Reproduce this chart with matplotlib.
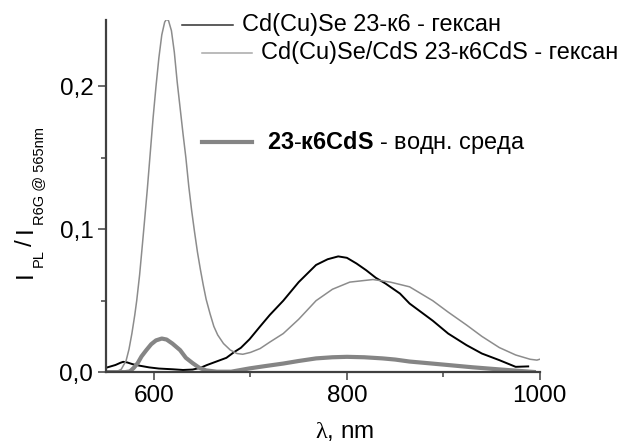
import matplotlib
matplotlib.use('Agg')
import matplotlib.pyplot as plt
from matplotlib.ticker import FixedLocator, FuncFormatter

plt.rcParams['font.family'] = ['Liberation Sans', 'DejaVu Sans']
plt.rcParams['mathtext.fontset'] = 'custom'
plt.rcParams['mathtext.rm'] = 'Liberation Sans'
plt.rcParams['mathtext.it'] = 'Liberation Serif'
plt.rcParams['mathtext.bf'] = 'Liberation Sans:bold'

FS = 17.5      # подписи осей
FS_LEG = 16.9  # подписи кривых
FS_SUB = 10.5  # индексы

# --- данные ---
# Cd(Cu)Se 23-к6 - гексан (чёрная)
wl_core = [550, 555, 560, 565, 568, 572, 578, 585, 595, 605, 619, 630, 640, 648,
           655, 665, 675, 683, 690, 699, 710, 720, 734, 750, 768, 780, 791, 800,
           810, 820, 830, 840, 855, 865, 875, 889, 905, 924, 940, 958, 975, 988]
pl_core = [0.003, 0.004, 0.005, 0.0065, 0.0072, 0.0068, 0.0055, 0.0045, 0.0033,
           0.0025, 0.002, 0.0015, 0.0018, 0.003, 0.005, 0.0075, 0.010, 0.014,
           0.017, 0.023, 0.032, 0.040, 0.050, 0.063, 0.075, 0.079, 0.081, 0.080,
           0.076, 0.0713, 0.066, 0.062, 0.055, 0.048, 0.043, 0.036, 0.027,
           0.0189, 0.013, 0.0084, 0.0037, 0.004]

# Cd(Cu)Se/CdS 23-к6CdS - гексан (тонкая серая)
wl_shell = [550, 560, 566, 571, 574, 577, 580, 582, 585, 588, 590, 593, 596, 599,
            602, 605, 608, 611, 613, 615, 618, 621, 624, 627, 630, 633, 636, 639,
            642, 645, 648, 651, 654, 658, 662, 666, 672, 679, 686, 692, 700, 710,
            720, 734, 750, 768, 785, 803, 827, 845, 865, 889, 905, 924, 940, 958,
            975, 990, 997, 1000]
pl_shell = [0.0, 0.0, 0.002, 0.008, 0.016, 0.027, 0.040, 0.050, 0.068, 0.090,
            0.105, 0.128, 0.153, 0.178, 0.200, 0.220, 0.236, 0.245, 0.247, 0.246,
            0.239, 0.224, 0.203, 0.185, 0.167, 0.150, 0.130, 0.113, 0.098, 0.084,
            0.072, 0.061, 0.051, 0.041, 0.032, 0.026, 0.020, 0.0155, 0.013,
            0.0125, 0.0138, 0.0165, 0.021, 0.027, 0.037, 0.050, 0.058, 0.063,
            0.0648, 0.063, 0.0597, 0.050, 0.042, 0.033, 0.025, 0.0172, 0.012,
            0.009, 0.0084, 0.009]

# 23-к6CdS - водн. среда (толстая серая)
wl_water = [550, 570, 575, 579, 583, 587, 592, 597, 602, 608, 613, 619, 627, 633,
            640, 647, 654, 665, 680, 699, 715, 734, 750, 768, 785, 800, 818, 837,
            850, 865, 885, 906, 930, 958, 980, 996]
pl_water = [0.0, 0.0, 0.0005, 0.003, 0.0063, 0.011, 0.0154, 0.0195, 0.0222,
            0.0235, 0.0228, 0.020, 0.0154, 0.010, 0.0063, 0.003, 0.0012, 0.0003,
            0.0003, 0.0026, 0.0042, 0.006, 0.0078, 0.0096, 0.0104, 0.0107,
            0.0104, 0.0096, 0.0088, 0.0074, 0.0062, 0.0049, 0.0034, 0.0019,
            0.0008, 0.0]

x_major = [600, 800, 1000]
x_minor = [700, 900]
y_major = [0.0, 0.1, 0.2]
y_minor = [0.05, 0.15]

fig = plt.figure(figsize=(6.19, 4.43), dpi=100)
ax = fig.add_axes([0.171, 0.160, 0.701, 0.795])

ax.plot(wl_core, pl_core, color='black', lw=1.4)
ax.plot(wl_shell, pl_shell, color='#8c8c8c', lw=1.1)
ax.plot(wl_water, pl_water, color='#858585', lw=3.0, solid_capstyle='butt')

ax.set_xlim(550, 1000)
ax.set_ylim(0, 0.2465)

for s in ['top', 'right']:
    ax.spines[s].set_visible(False)
for s in ['left', 'bottom']:
    ax.spines[s].set_color('#404040')
    ax.spines[s].set_linewidth(1.6)

ax.xaxis.set_major_locator(FixedLocator(x_major))
ax.xaxis.set_minor_locator(FixedLocator(x_minor))
ax.yaxis.set_major_locator(FixedLocator(y_major))
ax.yaxis.set_minor_locator(FixedLocator(y_minor))
ax.yaxis.set_major_formatter(FuncFormatter(lambda v, p: f'{v:.1f}'.replace('.', ',')))
ax.tick_params(which='major', direction='out', length=6, width=1.1,
               color='#404040', labelsize=FS, pad=3)
ax.tick_params(which='minor', direction='out', length=3.5, width=1.1,
               color='#404040')


def px(x, y):
    return x / 619, 1 - y / 443


# подпись оси Y по частям: крупные I и мелкие индексы (как в Origin)
def ylab(piece, y_start, x_base, size):
    fx, fy = px(x_base, y_start)
    fig.text(fx, fy, piece, rotation=90, rotation_mode='anchor',
             ha='left', va='baseline', fontsize=size)


ylab('I', 278, 32, FS)
ylab('PL', 267, 43, FS_SUB)
ylab('/', 246, 32, FS)
ylab('I', 233, 32, FS)
ylab('R6G @ 565nm', 225, 43, FS_SUB)

ax.text(0.55, -0.17, r'$\lambda$, nm', ha='center', va='center',
        fontsize=FS, transform=ax.transAxes)

# подписи кривых (вручную, как в оригинале)
x0, y0 = px(182, 25)
x1, _ = px(233, 25)
fig.add_artist(plt.Line2D([x0, x1], [y0, y0], color='#303030', lw=1.1))
fig.text(px(242, 25)[0], y0, 'Cd(Cu)Se 23-к6 - гексан', fontsize=FS_LEG, va='center')

x0, y0 = px(202, 53)
x1, _ = px(252, 53)
fig.add_artist(plt.Line2D([x0, x1], [y0, y0], color='#a8a8a8', lw=1.1))
fig.text(px(261, 53)[0], y0, 'Cd(Cu)Se/CdS 23-к6CdS - гексан', fontsize=FS_LEG, va='center')

x0, y0 = px(202, 142)
x1, _ = px(252, 142)
fig.add_artist(plt.Line2D([x0, x1], [y0, y0], color='#858585', lw=3.0))
fig.text(px(267, 142)[0], y0, r'$\mathbf{23}$-$\mathbf{к6CdS}$ - водн. среда',
         fontsize=FS_LEG, va='center')

fig.savefig('out.png', dpi=100)
